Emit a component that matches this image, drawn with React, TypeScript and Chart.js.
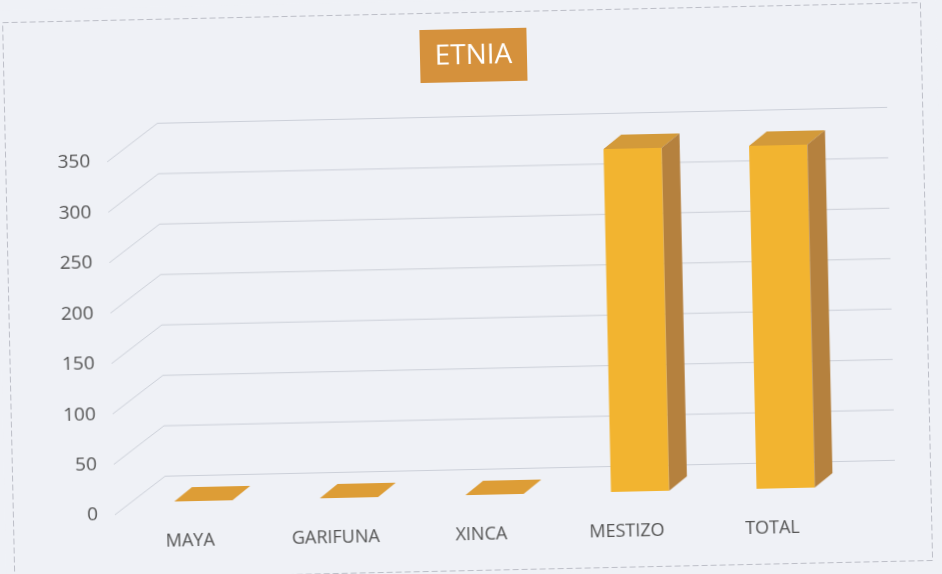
import React, { useEffect, useRef } from "react";
import { Chart, registerables } from "chart.js";

Chart.register(...registerables);

const TITLE = "ETNIA";
const categories = ["MAYA", "GARIFUNA", "XINCA", "MESTIZO", "TOTAL"];
const values = [0, 0, 0, 340, 340];
const Y_MIN = 0;
const Y_MAX = 350;
const Y_STEP = 50;

const BG = "#eff1f6";
const FRONT = "#f2b430";
const SIDE = "#b5813e";
const TOP = "#d39a3a";
const SLAB = "#dd9d36";
const TITLE_BG = "#d5913c";
const TEXT = "#555555";
const GRID = "rgba(170,175,188,0.5)";

const DEPTH_X = 18;
const DEPTH_Y = -14;

const decorPlugin = {
  id: "decor3d",
  beforeDraw(chart: any) {
    const ctx = chart.ctx;
    ctx.save();
    ctx.fillStyle = BG;
    ctx.fillRect(0, 0, chart.width, chart.height);
    ctx.strokeStyle = "rgba(175,178,188,0.8)";
    ctx.lineWidth = 1;
    ctx.setLineDash([6, 3]);
    ctx.strokeRect(8.5, 12.5, 918, 558);
    ctx.setLineDash([]);
    ctx.font = "28px 'Open Sans'";
    const tw = ctx.measureText(TITLE).width;
    const bw = Math.max(107, tw + 28);
    const cx = 478.5;
    const cy = 55.5;
    ctx.fillStyle = TITLE_BG;
    ctx.fillRect(cx - bw / 2, cy - 26.5, bw, 53);
    ctx.fillStyle = "#ffffff";
    ctx.textAlign = "center";
    ctx.textBaseline = "middle";
    ctx.fillText(TITLE, cx, cy + 1);
    ctx.restore();
  },
  beforeDatasetsDraw(chart: any) {
    const ctx = chart.ctx;
    const ys = chart.scales.y;
    const area = chart.chartArea;
    ctx.save();
    ctx.strokeStyle = GRID;
    ctx.lineWidth = 1;
    for (let v = Y_MIN; v <= Y_MAX; v += Y_STEP) {
      const py = ys.getPixelForValue(v);
      ctx.beginPath();
      ctx.moveTo(area.left - 16, py + 12);
      ctx.lineTo(area.left + 35, py - 25.5);
      ctx.lineTo(area.right + 37, py - 25.5);
      ctx.stroke();
    }
    ctx.restore();
  },
  afterDatasetsDraw(chart: any) {
    const ctx = chart.ctx;
    const meta = chart.getDatasetMeta(0);
    ctx.save();
    meta.data.forEach((bar: any, i: number) => {
      const { x, y, base, width } = bar.getProps(["x", "y", "base", "width"], true);
      const x0 = x - width / 2;
      const x1 = x + width / 2;
      if (values[i] > 0) {
        ctx.fillStyle = TOP;
        ctx.beginPath();
        ctx.moveTo(x0, y);
        ctx.lineTo(x1, y);
        ctx.lineTo(x1 + DEPTH_X, y + DEPTH_Y);
        ctx.lineTo(x0 + DEPTH_X, y + DEPTH_Y);
        ctx.closePath();
        ctx.fill();
        ctx.fillStyle = SIDE;
        ctx.beginPath();
        ctx.moveTo(x1, y);
        ctx.lineTo(x1 + DEPTH_X, y + DEPTH_Y);
        ctx.lineTo(x1 + DEPTH_X, base + DEPTH_Y);
        ctx.lineTo(x1, base);
        ctx.closePath();
        ctx.fill();
      } else {
        ctx.fillStyle = SLAB;
        ctx.beginPath();
        ctx.moveTo(x0, base);
        ctx.lineTo(x1, base);
        ctx.lineTo(x1 + DEPTH_X, base + DEPTH_Y);
        ctx.lineTo(x0 + DEPTH_X, base + DEPTH_Y);
        ctx.closePath();
        ctx.fill();
      }
    });
    ctx.restore();
  },
};

export default function App() {
  const ref = useRef<HTMLCanvasElement | null>(null);
  useEffect(() => {
    if (!ref.current) return;
    Chart.defaults.font.family = "'Open Sans', sans-serif";
    const chart = new Chart(ref.current, {
      type: "bar",
      data: {
        labels: categories,
        datasets: [
          {
            data: values,
            backgroundColor: FRONT,
            borderWidth: 0,
            categoryPercentage: 0.8,
            barPercentage: 0.5,
          },
        ],
      },
      options: {
        animation: false,
        responsive: false,
        maintainAspectRatio: false,
        layout: { padding: { left: 0, right: 88, top: 142, bottom: 0 } },
        plugins: {
          legend: { display: false },
          title: { display: false },
          tooltip: { enabled: false },
        },
        scales: {
          x: {
            grid: { display: false, drawTicks: false },
            border: { display: false },
            ticks: {
              color: TEXT,
              font: { size: 18 },
              padding: 29,
              labelOffset: -14,
              maxRotation: 0,
              autoSkip: false,
            },
            afterFit: (s: any) => {
              s.height = 79;
            },
          },
          y: {
            min: Y_MIN,
            max: Y_MAX,
            grid: { display: false, drawTicks: false },
            border: { display: false },
            ticks: {
              stepSize: Y_STEP,
              color: TEXT,
              font: { size: 19 },
              padding: 33,
              labelOffset: 12,
            },
            afterFit: (s: any) => {
              s.width = 126;
            },
          },
        },
      },
      plugins: [decorPlugin],
    });
    return () => chart.destroy();
  }, []);

  return (
    <div
      style={{
        position: "fixed",
        left: 0,
        top: 0,
        width: 942,
        height: 574,
        background: BG,
        overflow: "hidden",
      }}
    >
      <div
        style={{
          position: "absolute",
          left: 0,
          top: 0,
          width: 942,
          height: 574,
          transform: "rotate(-1.25deg)",
          transformOrigin: "471px 287px",
        }}
      >
        <canvas ref={ref} width={942} height={574} style={{ width: 942, height: 574, display: "block" }} />
      </div>
    </div>
  );
}
